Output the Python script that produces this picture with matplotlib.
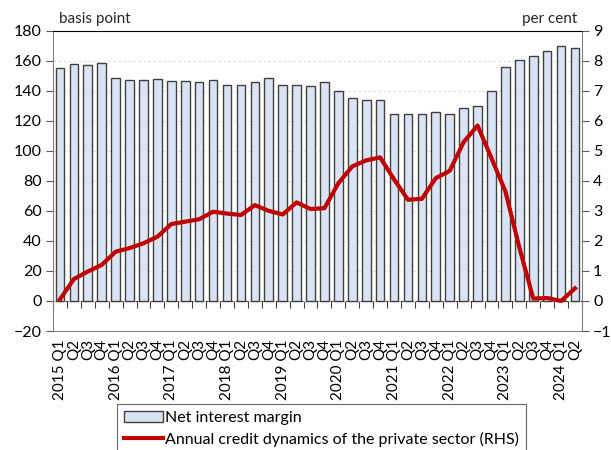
import matplotlib
matplotlib.use("Agg")
import matplotlib.pyplot as plt
import numpy as np

plt.rcParams['font.family'] = ['Lato', 'DejaVu Sans']

years = list(range(2015, 2025))
quarters = [f"{y} Q{q}" for y in years for q in range(1, 5)][:38]
tick_labels = [q if q.endswith("Q1") else q[-2:] for q in quarters]

# net interest margin, basis points
nim = [155, 157.5, 157.3, 158.3, 148.5, 147.3, 147.3, 148, 146.5, 146.2,
       145.6, 147.3, 143.6, 144, 146, 148.7, 143.5, 143.5, 143.3, 145.5,
       139.8, 134.9, 133.8, 133.8, 124.3, 124.4, 124.2, 125.6, 124.7, 128.3,
       129.6, 139.8, 155.8, 160.2, 163.3, 166.7, 169.8, 168.3]

# annual credit dynamics of the private sector, per cent (RHS)
credit = [0.05, 0.73, 0.98, 1.2, 1.64, 1.76, 1.92, 2.14, 2.56, 2.64,
          2.72, 2.97, 2.91, 2.86, 3.19, 3.0, 2.88, 3.28, 3.06, 3.09,
          3.92, 4.48, 4.68, 4.78, 4.05, 3.37, 3.4, 4.09, 4.33, 5.29,
          5.84, 4.75, 3.65, 1.78, 0.08, 0.1, 0.0, 0.42]

x = np.arange(len(quarters))

fig = plt.figure(figsize=(6.11, 4.5), dpi=100)
ax = fig.add_axes([0.0867, 0.2644, 0.8658, 0.6676])
ax.set_axisbelow(True)
ax.yaxis.grid(True, color='#d9d9d9', linestyle=(0, (3, 3)), linewidth=0.6)

bars = ax.bar(x, nim, width=0.62, color='#dae3f3', edgecolor='#404040',
              linewidth=1.0, label='Net interest margin')

ax.set_xlim(-0.5, len(x) - 0.5)
ax.set_ylim(-20, 180)
ax.set_yticks(range(-20, 181, 20))
ax.set_xticks(x)
ax.set_xticklabels(tick_labels, rotation=90, fontsize=11)
ax.tick_params(axis='x', length=0, pad=6)
ax.tick_params(axis='y', labelsize=11.5, length=5, color='#595959', pad=3)

for s in ['left', 'right', 'bottom']:
    ax.spines[s].set_color('#808080')
ax.spines['top'].set_color('black')

# zero line with category boundary ticks
sec = ax.secondary_xaxis(0.1)
sec.set_xticks(np.arange(-0.5, len(x), 1.0))
sec.set_xticklabels([])
sec.tick_params(axis='x', length=5, color='#404040', direction='out')
sec.spines['bottom'].set_color('#404040')

ax2 = ax.twinx()
line, = ax2.plot(x, credit, color='#c00000', linewidth=3.0,
                 solid_joinstyle='round', label='Annual credit dynamics of the private sector (RHS)')
ax2.set_ylim(-1, 9)
ax2.set_yticks(range(-1, 10))
ax2.tick_params(axis='y', labelsize=11.5, length=5, color='#595959', pad=3)
for s in ['left', 'right', 'bottom', 'top']:
    ax2.spines[s].set_visible(False)

fig.text(0.097, 0.948, 'basis point', fontsize=11, color='#262626')
fig.text(0.945, 0.948, 'per cent', fontsize=11, color='#262626', ha='right')

leg = fig.legend(handles=[bars, line], loc='upper left',
                 bbox_to_anchor=(117 / 611, 1 - 404 / 450),
                 fontsize=11.5, frameon=True, fancybox=False,
                 handlelength=2.4, handletextpad=0.15, borderpad=0.45,
                 labelspacing=0.4, borderaxespad=0)
leg.get_frame().set_edgecolor('#404040')
leg.get_frame().set_linewidth(0.8)

fig.savefig('out.png', dpi=100)
